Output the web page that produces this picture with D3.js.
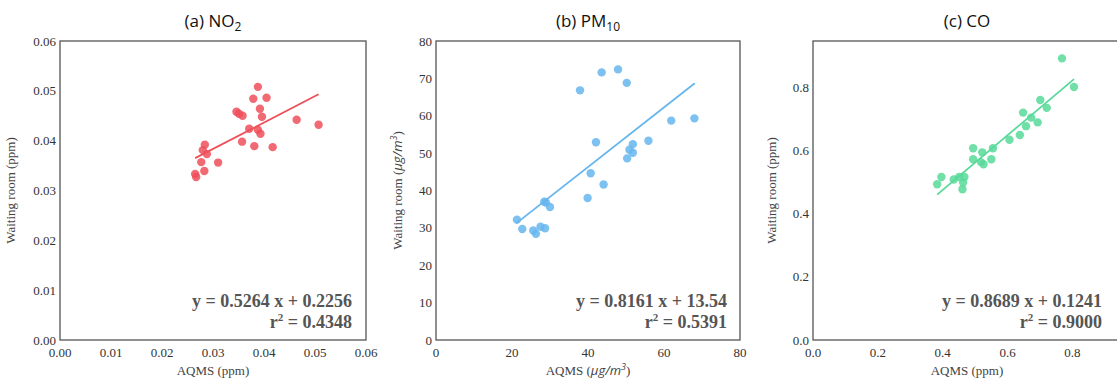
<!DOCTYPE html>
<html>
<head>
<meta charset="utf-8">
<script src="https://cdn.jsdelivr.net/npm/d3@7"></script>
<style>
  body { margin: 0; background: #fff; }
  svg { display: block; }
</style>
</head>
<body>
<div id="chart"></div>
<script>
// ---- data ----
var no2X = [0.0388, 0.0379, 0.0405, 0.0392, 0.0346, 0.0351, 0.0358, 0.0396, 0.0464, 0.0507, 0.0371, 0.0388,
            0.0393, 0.0357, 0.0381, 0.0417, 0.0284, 0.0280, 0.0288, 0.0277, 0.0310, 0.0283, 0.0265, 0.0267]
var no2Y = [0.0508, 0.0484, 0.0486, 0.0464, 0.0458, 0.0454, 0.0450, 0.0448, 0.0442, 0.0432, 0.0424, 0.0422,
            0.0414, 0.0398, 0.0389, 0.0387, 0.0392, 0.0381, 0.0373, 0.0357, 0.0356, 0.0339, 0.0333, 0.0327]
var no2Fit = [[0.0265, 0.0365], [0.0507, 0.0493]]

var pmX = [47.9, 43.6, 50.2, 37.9, 61.9, 68.0, 42.1, 55.9, 51.8, 50.9, 51.8, 50.3, 40.7, 44.1, 39.9,
           28.5, 28.9, 30.0, 21.3, 22.7, 25.6, 26.3, 27.5, 28.7]
var pmY = [72.4, 71.6, 68.8, 66.8, 58.7, 59.3, 52.9, 53.3, 52.4, 50.9, 50.1, 48.6, 44.6, 41.6, 38.0,
           37.0, 36.8, 35.6, 32.2, 29.7, 29.3, 28.4, 30.3, 29.9]
var pmFit = [[21.1, 31.2], [68.1, 68.7]]

var coX = [0.768, 0.805, 0.701, 0.721, 0.648, 0.673, 0.693, 0.657, 0.638, 0.606, 0.494, 0.555, 0.522,
           0.494, 0.550, 0.518, 0.526, 0.396, 0.434, 0.451, 0.467, 0.463, 0.383, 0.461]
var coY = [0.893, 0.802, 0.761, 0.736, 0.721, 0.705, 0.690, 0.678, 0.650, 0.635, 0.608, 0.608, 0.595,
           0.573, 0.573, 0.564, 0.557, 0.517, 0.509, 0.517, 0.517, 0.499, 0.494, 0.478]
var coFit = [[0.383, 0.461], [0.805, 0.827]]

var no2Ticks = [0, 0.01, 0.02, 0.03, 0.04, 0.05, 0.06]
var pmTicks = [0, 10, 20, 30, 40, 50, 60, 70, 80]
var pmXTicks = [0, 20, 40, 60, 80]
var coTicks = [0, 0.2, 0.4, 0.6, 0.8]

var panels = [
  { left: 60, title: "(a) NO", sub: "2", xs: no2X, ys: no2Y, fit: no2Fit, color: "#ef4f5a",
    xDom: [0, 0.06], yDom: [0, 0.06], xTicks: no2Ticks, yTicks: no2Ticks, fmt: d3.format(".2f"),
    xLabel: "AQMS (ppm)", yLabel: "Waiting room (ppm)", unit: false, yOff: 45,
    eq: "y = 0.5264 x + 0.2256", r2: "0.4348", w: 306, eqX: 352 },
  { left: 436, title: "(b) PM", sub: "10", xs: pmX, ys: pmY, fit: pmFit, color: "#66b6ee",
    xDom: [0, 80], yDom: [0, 80], xTicks: pmXTicks, yTicks: pmTicks, fmt: d3.format("d"),
    xLabel: "AQMS", yLabel: "Waiting room", unit: true, yOff: 34,
    eq: "y = 0.8161 x + 13.54", r2: "0.5391", w: 304, eqX: 727 },
  { left: 813, title: "(c) CO", sub: null, xs: coX, ys: coY, fit: coFit, color: "#58d999",
    xDom: [0, 0.95], yDom: [0, 0.948], xTicks: coTicks, yTicks: coTicks, fmt: d3.format(".1f"),
    xLabel: "AQMS (ppm)", yLabel: "Waiting room (ppm)", unit: false, yOff: 37,
    eq: "y = 0.8689 x + 0.1241", r2: "0.9000", w: 308, eqX: 1102 }
]

var width = 1117, height = 382
var plotTop = 41, plotBottom = 340

var svg = d3.select("#chart").append("svg")
  .attr("width", width)
  .attr("height", height)

var serif = "'Liberation Serif', 'DejaVu Serif', serif"
var sans = "'Open Sans', 'Noto Sans', sans-serif"

panels.forEach(function(p) {
  var x = d3.scaleLinear().domain(p.xDom).range([p.left, p.left + p.w])
  var y = d3.scaleLinear().domain(p.yDom).range([plotBottom, plotTop])
  var g = svg.append("g")

  // frame
  g.append("rect")
    .attr("x", p.left).attr("y", plotTop)
    .attr("width", p.w).attr("height", plotBottom - plotTop)
    .attr("fill", "none")
    .attr("stroke", "#555")
    .attr("stroke-width", 1.3)

  // tick labels
  g.selectAll(".yt").data(p.yTicks).enter().append("text")
    .attr("class", "yt")
    .attr("x", p.left - 4)
    .attr("y", function(d) { return y(d) })
    .attr("dy", "0.35em")
    .attr("text-anchor", "end")
    .style("font-family", serif).style("font-size", "13px").style("fill", "#333")
    .text(p.fmt)

  g.selectAll(".xt").data(p.xTicks).enter().append("text")
    .attr("class", "xt")
    .attr("x", function(d) { return x(d) })
    .attr("y", 357)
    .attr("text-anchor", "middle")
    .style("font-family", serif).style("font-size", "13px").style("fill", "#333")
    .text(p.fmt)

  // axis titles
  var xl = g.append("text")
    .attr("x", p.left + p.w / 2)
    .attr("y", 375)
    .attr("text-anchor", "middle")
    .style("font-family", serif).style("font-size", "13px").style("fill", "#444")
  var yl = g.append("text")
    .attr("transform", "translate(" + (p.left - p.yOff) + "," + ((plotTop + plotBottom) / 2) + ") rotate(-90)")
    .attr("text-anchor", "middle")
    .style("font-family", serif).style("font-size", "13px").style("fill", "#444")
  if (p.unit) {
    [xl, yl].forEach(function(t, i) {
      t.append("tspan").text((i == 0 ? p.xLabel : p.yLabel) + " (")
      t.append("tspan").style("font-family", sans).style("font-style", "italic").text("\u03BCg/m")
      t.append("tspan").style("font-family", sans).style("font-style", "italic")
        .attr("dy", -5).style("font-size", "9px").text("3")
      t.append("tspan").attr("dy", 5).text(")")
    })
  } else {
    xl.text(p.xLabel)
    yl.text(p.yLabel)
  }

  // panel title
  var t = g.append("text")
    .attr("x", p.left + p.w / 2)
    .attr("y", 27)
    .attr("text-anchor", "middle")
    .style("font-family", sans).style("font-size", "17px").style("fill", "#111")
    .text(p.title)
  if (p.sub) t.append("tspan").attr("dy", 4).style("font-size", "12px").text(p.sub)

  // points
  var pts = p.xs.map(function(v, i) { return [v, p.ys[i]] })
  g.selectAll("circle").data(pts).enter().append("circle")
    .attr("cx", function(d) { return x(d[0]) })
    .attr("cy", function(d) { return y(d[1]) })
    .attr("r", 4.2)
    .attr("fill", p.color)
    .attr("fill-opacity", 0.85)

  // fit line
  g.append("path")
    .datum(p.fit)
    .attr("d", d3.line().x(function(d) { return x(d[0]) }).y(function(d) { return y(d[1]) }))
    .attr("stroke", p.color)
    .attr("stroke-width", 1.8)
    .attr("fill", "none")

  // equation
  g.append("text")
    .attr("x", p.eqX).attr("y", 307)
    .attr("text-anchor", "end")
    .style("font-family", serif).style("font-weight", "bold").style("font-size", "18px").style("fill", "#555")
    .text(p.eq)
  var r = g.append("text")
    .attr("x", p.eqX).attr("y", 328)
    .attr("text-anchor", "end")
    .style("font-family", serif).style("font-weight", "bold").style("font-size", "18px").style("fill", "#555")
  r.append("tspan").text("r")
  r.append("tspan").attr("dy", -7).style("font-size", "11px").text("2")
  r.append("tspan").attr("dy", 7).text(" = " + p.r2)
})
</script>
</body>
</html>
